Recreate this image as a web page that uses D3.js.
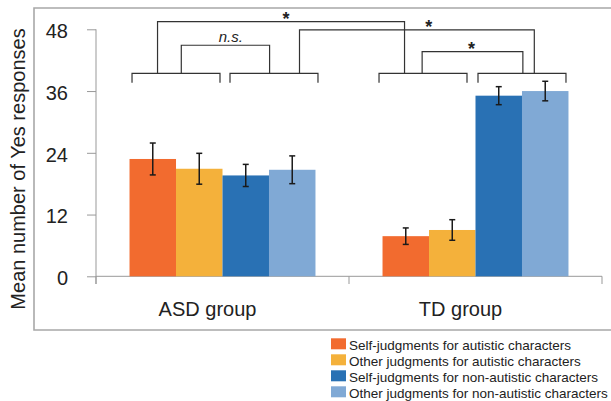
<!DOCTYPE html>
<html>
<head>
<meta charset="utf-8">
<script src="https://cdn.jsdelivr.net/npm/d3@7"></script>
<style>
  body { margin: 0; background: #fff; }
  svg { display: block; font-family: "Liberation Sans", Arial, sans-serif; }
</style>
</head>
<body>
<svg id="chart"></svg>
<script>
// data
var groups = ["ASD group", "TD group"];
var series = [
  "Self-judgments for autistic characters",
  "Other judgments for autistic characters",
  "Self-judgments for non-autistic characters",
  "Other judgments for non-autistic characters"
];
var asdMeans = [22.8, 20.9, 19.6, 20.7];
var asdErrors = [3.1, 3.0, 2.15, 2.7];
var tdMeans = [7.8, 9.0, 35.1, 36.0];
var tdErrors = [1.6, 2.0, 1.75, 1.9];
var yTicks = [0, 12, 24, 36, 48];
var colors = ["#f26b2f", "#f4b13b", "#2971b4", "#80a9d5"];

// significance brackets: pairs of bars, then connectors between pair brackets
var pairs = [
  { group: 0, bars: [0, 1], shift: 0 }, { group: 0, bars: [2, 3], shift: 5 },
  { group: 1, bars: [0, 1], shift: -6 }, { group: 1, bars: [2, 3], shift: 0 }
];
var pairLevel = 39.45, pairLeg = 37.6;
var connectors = [
  { from: 0, fromAt: 0.29, to: 2, toAt: 0.29, level: 49.5, label: "*", labelAt: 0.52 },
  { from: 1, fromAt: 0.79, to: 3, toAt: 0.64, level: 47.9, label: "*", labelAt: 0.55 },
  { from: 0, fromAt: 0.56, to: 1, toAt: 0.45, level: 44.9, label: "n.s.", labelAt: 0.56 },
  { from: 2, fromAt: 0.49, to: 3, toAt: 0.51, level: 43.65, label: "*", labelAt: 0.49 }
];

var means = [asdMeans, tdMeans], errors = [asdErrors, tdErrors];
var rows = [];
groups.forEach(function(g, gi) {
  series.forEach(function(s, si) {
    rows.push({ group: g, gi: gi, series: s, si: si, mean: means[gi][si], err: errors[gi][si] });
  });
});

var W = 611, H = 401;
var svg = d3.select("#chart").attr("width", W).attr("height", H);

svg.append("rect").attr("width", W).attr("height", H).attr("fill", "#fff");

// outer frame (open to the right, like the cropped original)
svg.append("path")
  .attr("d", "M" + (W + 2) + ",8 H34 V330 H" + (W + 2))
  .attr("fill", "none").attr("stroke", "#a8a8a8").attr("stroke-width", 1.6);

var x0 = d3.scaleBand().domain(groups).range([96, 602]).paddingInner(0.265).paddingOuter(0.1325);
var x1 = d3.scaleBand().domain(d3.range(series.length)).range([0, x0.bandwidth()]);
var y = d3.scaleLinear().domain([0, 48]).range([276.3, 29.3]);

// y axis
var yAxis = svg.append("g").attr("transform", "translate(96,0)")
  .call(d3.axisLeft(y).tickValues(yTicks).tickSize(9).tickPadding(19));
yAxis.select(".domain").remove();
yAxis.selectAll(".tick line").attr("stroke", "#999");
yAxis.selectAll(".tick text")
  .attr("font-size", 20).attr("fill", "#222").attr("dy", "0.42em")
  .style("font-family", "'Liberation Sans', Arial, sans-serif");
svg.append("line").attr("x1", 96).attr("x2", 96).attr("y1", y(48)).attr("y2", 284)
  .attr("stroke", "#999");

// x axis with category separators
svg.append("line").attr("x1", 96).attr("x2", 602).attr("y1", y(0)).attr("y2", y(0))
  .attr("stroke", "#999");
var seps = [x0.range()[0], x0.range()[0] + x0.step(), x0.range()[1]];
svg.selectAll(".sep").data(seps).enter().append("line")
  .attr("x1", function(d) { return d; }).attr("x2", function(d) { return d; })
  .attr("y1", y(0)).attr("y2", 284).attr("stroke", "#999");

svg.selectAll(".glabel").data(groups).enter().append("text")
  .attr("x", function(d) { return x0(d) + x0.bandwidth() / 2 - 15; })
  .attr("y", 316)
  .attr("text-anchor", "middle").attr("font-size", 20).attr("fill", "#222")
  .text(function(d) { return d; });

svg.append("text")
  .attr("transform", "translate(24.5,169) rotate(-90)")
  .attr("text-anchor", "middle").attr("font-size", 20).attr("fill", "#222")
  .text("Mean number of Yes responses");

// bars
svg.selectAll(".bar").data(rows).enter().append("rect")
  .attr("x", function(d) { return x0(d.group) + x1(d.si); })
  .attr("y", function(d) { return y(d.mean); })
  .attr("width", x1.bandwidth())
  .attr("height", function(d) { return y(0) - y(d.mean); })
  .attr("fill", function(d) { return colors[d.si]; });

// error bars
var eb = svg.selectAll(".err").data(rows).enter().append("g")
  .attr("transform", function(d) { return "translate(" + (x0(d.group) + x1(d.si) + x1.bandwidth() / 2) + ",0)"; })
  .attr("stroke", "#1a1a1a").attr("stroke-width", 1.5);
eb.append("line").attr("y1", function(d) { return y(d.mean + d.err); })
  .attr("y2", function(d) { return y(d.mean - d.err); });
eb.append("line").attr("x1", -3).attr("x2", 3)
  .attr("y1", function(d) { return y(d.mean + d.err); }).attr("y2", function(d) { return y(d.mean + d.err); });
eb.append("line").attr("x1", -3).attr("x2", 3)
  .attr("y1", function(d) { return y(d.mean - d.err); }).attr("y2", function(d) { return y(d.mean - d.err); });

// significance brackets
var inset = 2.5;
pairs.forEach(function(p) {
  var g = groups[p.group];
  p.left = x0(g) + x1(p.bars[0]) + inset + p.shift;
  p.right = x0(g) + x1(p.bars[1]) + x1.bandwidth() - inset + p.shift;
});
function pairX(i, at) { return pairs[i].left + (pairs[i].right - pairs[i].left) * at; }

var br = svg.append("g").attr("fill", "none").attr("stroke", "#333").attr("stroke-width", 1.2);
br.selectAll(".pair").data(pairs).enter().append("path")
  .attr("d", function(p) {
    return "M" + p.left + "," + y(pairLeg) + "V" + y(pairLevel) + "H" + p.right + "V" + y(pairLeg);
  });
br.selectAll(".conn").data(connectors).enter().append("path")
  .attr("d", function(c) {
    return "M" + pairX(c.from, c.fromAt) + "," + y(pairLevel) + "V" + y(c.level) +
      "H" + pairX(c.to, c.toAt) + "V" + y(pairLevel);
  });

svg.selectAll(".sig").data(connectors).enter().append("text")
  .attr("x", function(c) {
    var a = pairX(c.from, c.fromAt), b = pairX(c.to, c.toAt);
    return a + (b - a) * c.labelAt;
  })
  .attr("y", function(c) { return c.label === "*" ? y(c.level) + 3.3 : y(c.level) - 3; })
  .attr("text-anchor", "middle").attr("fill", "#222")
  .attr("font-size", function(c) { return c.label === "*" ? 18 : 15; })
  .attr("font-weight", function(c) { return c.label === "*" ? "bold" : "normal"; })
  .attr("font-style", function(c) { return c.label === "*" ? "normal" : "italic"; })
  .text(function(c) { return c.label; });

// legend
var leg = svg.selectAll(".leg").data(series).enter().append("g")
  .attr("transform", function(d, i) { return "translate(331," + (338.3 + i * 16) + ")"; });
leg.append("rect").attr("width", 15).attr("height", 11)
  .attr("fill", function(d, i) { return colors[i]; });
leg.append("text").attr("x", 18).attr("y", 11.5)
  .attr("font-size", 13.5).attr("fill", "#222")
  .text(function(d) { return d; });
</script>
</body>
</html>
